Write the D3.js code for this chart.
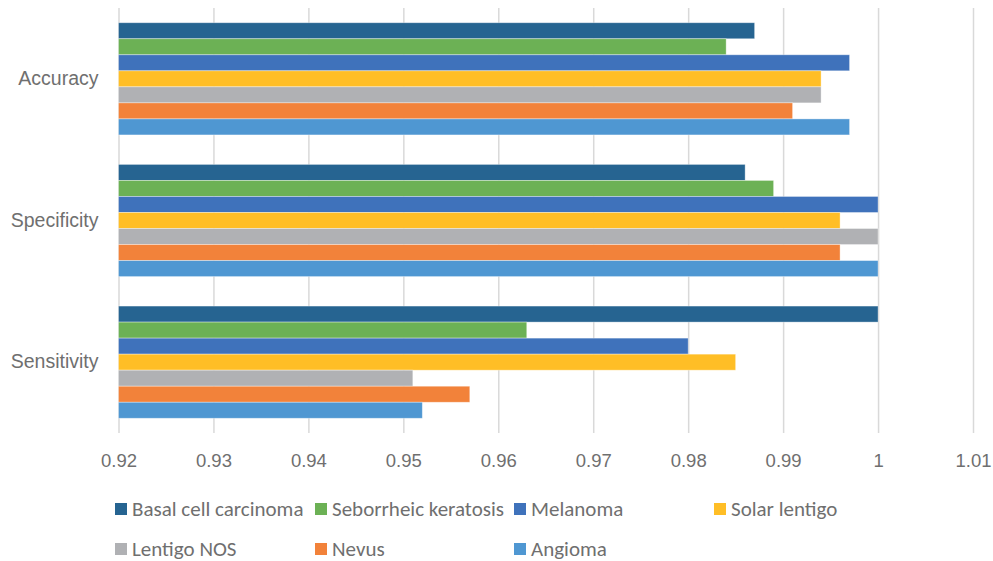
<!DOCTYPE html>
<html>
<head>
<meta charset="utf-8">
<script src="https://cdn.jsdelivr.net/npm/d3@7/dist/d3.min.js"></script>
<style>
  html, body { margin: 0; padding: 0; background: #fff; }
  svg { display: block; font-family: Carlito, Lato, "Open Sans", sans-serif; }
</style>
</head>
<body>
<svg id="chart" width="993" height="561"></svg>
<script>
// Metrics shown as horizontal bar groups, top to bottom
const metrics = ["Accuracy", "Specificity", "Sensitivity"];

// Lesion classes, one bar per class inside each group (top to bottom)
const lesions = ["Basal cell carcinoma", "Seborrheic keratosis", "Melanoma",
                 "Solar lentigo", "Lentigo NOS", "Nevus", "Angioma"];

// Values per lesion, in the order of `metrics`
const basalCell   = [0.987, 0.986, 1.000];
const seborrheic  = [0.984, 0.989, 0.963];
const melanoma    = [0.997, 1.000, 0.980];
const solarLent   = [0.994, 0.996, 0.985];
const lentigoNOS  = [0.994, 1.000, 0.951];
const nevus       = [0.991, 0.996, 0.957];
const angioma     = [0.997, 1.000, 0.952];

const xTicks = [0.92, 0.93, 0.94, 0.95, 0.96, 0.97, 0.98, 0.99, 1.00, 1.01];

const palette = ["#266491", "#6cb155", "#3f72bb", "#ffbe26", "#b0b1b4", "#f2823a", "#4f97d2"];

const seriesValues = [basalCell, seborrheic, melanoma, solarLent, lentigoNOS, nevus, angioma];
const rows = [];
metrics.forEach((m, mi) => {
  lesions.forEach((l, li) => rows.push({ metric: m, lesion: l, value: seriesValues[li][mi] }));
});

const svg = d3.select("#chart");
const plot = { left: 118.5, right: 973, top: 8, bottom: 433 };
const textColor = "#6f6f6f";

const x = d3.scaleLinear().domain([0.92, 1.01]).range([plot.left, plot.right]);
const y0 = d3.scaleBand().domain(metrics).range([plot.top, plot.bottom])
  .paddingInner(0.208).paddingOuter(0.104);
const y1 = d3.scaleBand().domain(lesions).range([0, y0.bandwidth()]);
const color = d3.scaleOrdinal().domain(lesions).range(palette);

// vertical gridlines with tick labels below
const xAxis = d3.axisBottom(x).tickValues(xTicks)
  .tickSize(-(plot.bottom - plot.top)).tickPadding(21)
  .tickFormat(d => d3.format("")(+d.toFixed(2)));
const gx = svg.append("g")
  .attr("transform", `translate(0,${plot.bottom})`)
  .call(xAxis);
gx.select(".domain").remove();
gx.selectAll(".tick line").attr("stroke", "#d9d9d9").attr("stroke-width", 1.5);
gx.selectAll(".tick text").attr("fill", textColor).attr("font-size", 18.5);

// category axis labels
const gy = svg.append("g")
  .attr("transform", `translate(${plot.left},0)`)
  .call(d3.axisLeft(y0).tickSize(0).tickPadding(20));
gy.select(".domain").remove();
gy.selectAll(".tick text").attr("fill", textColor).attr("font-size", 19.5);

// bars
svg.append("g").selectAll("rect").data(rows).join("rect")
  .attr("x", x(0.92))
  .attr("y", d => y0(d.metric) + y1(d.lesion))
  .attr("width", d => x(d.value) - x(0.92))
  .attr("height", y1.bandwidth())
  .attr("fill", d => color(d.lesion))
  .attr("stroke", "#ffffff")
  .attr("stroke-opacity", 0.45)
  .attr("stroke-width", 0.8);

// legend, four columns by two rows
const legendCols = [115, 315, 514, 714];
const legendRows = [503, 543];
const lg = svg.append("g").selectAll("g").data(lesions).join("g")
  .attr("transform", (d, i) => `translate(${legendCols[i % 4]},${legendRows[Math.floor(i / 4)]})`);
lg.append("rect").attr("width", 12).attr("height", 12).attr("fill", d => color(d));
lg.append("text").attr("x", 17).attr("y", 12.5)
  .attr("fill", textColor).attr("font-size", 21)
  .text(d => d);
</script>
</body>
</html>
